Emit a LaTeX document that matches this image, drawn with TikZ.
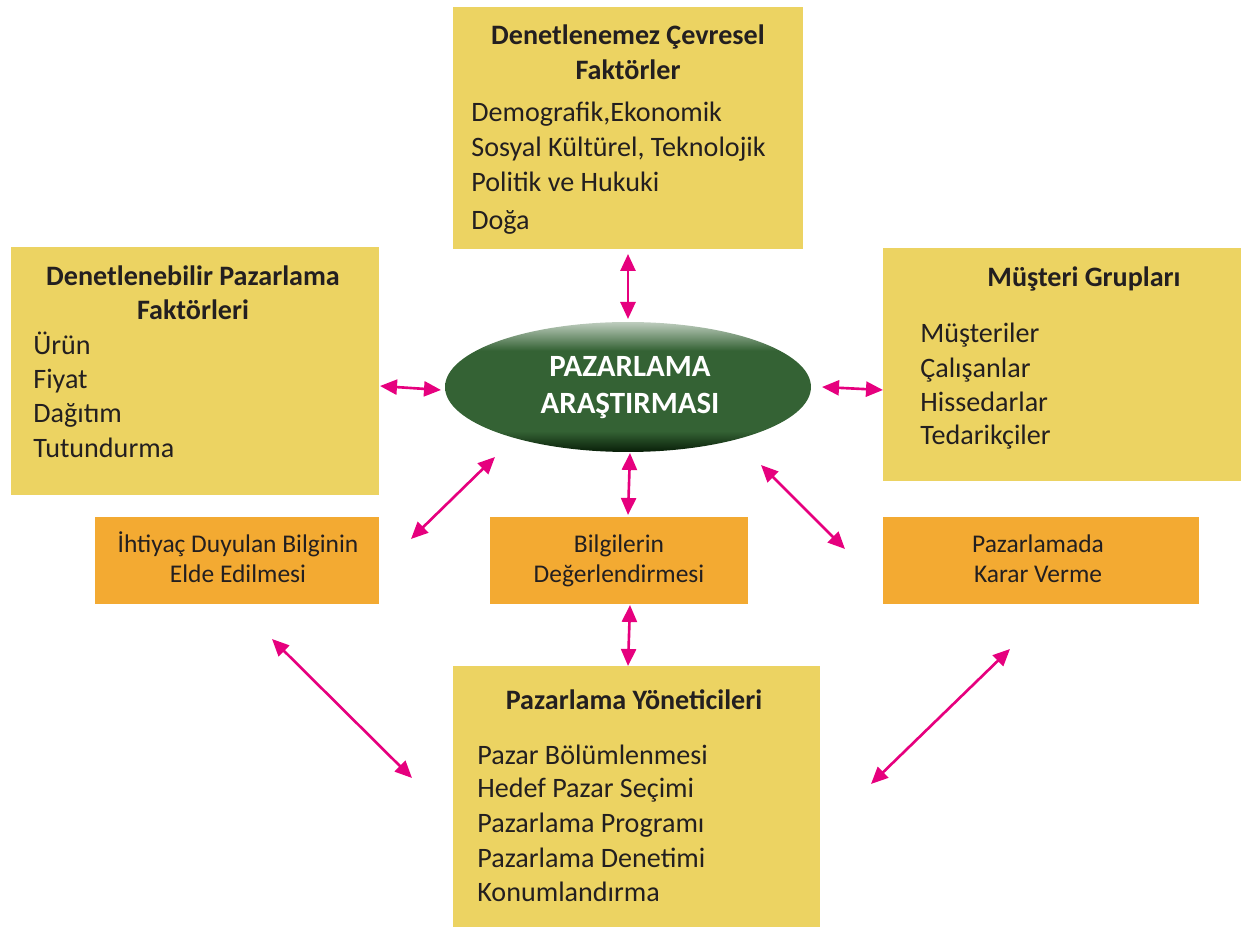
\documentclass[tikz,border=0pt]{standalone}
\usepackage{fontspec}
\setmainfont{Carlito}
\usetikzlibrary{arrows.meta,shapes.geometric}
\definecolor{ybox}{RGB}{236,211,98}
\definecolor{obox}{RGB}{243,170,50}
\definecolor{mag}{RGB}{230,0,126}
\definecolor{txt}{RGB}{35,31,32}
\definecolor{gtop}{RGB}{190,205,190}
\definecolor{gmid}{RGB}{52,98,52}
\definecolor{gbot}{RGB}{8,30,8}
\pgfdeclareverticalshading{ellsh}{100bp}{color(0bp)=(gbot); color(25bp)=(gbot); color(33bp)=(gmid); color(64bp)=(gmid); color(75bp)=(gtop); color(100bp)=(gtop)}
\begin{document}
\begin{tikzpicture}[x=0.02cm,y=-0.02cm,
  ybox/.style={fill=ybox,inner sep=0,outer sep=0},
  obox/.style={fill=obox,inner sep=0,outer sep=0},
  ttl/.style={anchor=base,inner sep=0,font=\fontsize{16}{19}\selectfont\bfseries,text=txt},
  itm/.style={anchor=base west,inner sep=0,font=\fontsize{16}{19}\selectfont,text=txt},
  otx/.style={anchor=base,inner sep=0,font=\fontsize{14.5}{17}\selectfont,text=txt},
  etx/.style={anchor=base,inner sep=0,font=\fontsize{17.6}{21}\selectfont\bfseries,text=white},
  dbl/.style={mag,line width=1.5pt,{Triangle[length=0.34cm,width=0.3cm]}-{Triangle[length=0.34cm,width=0.3cm]}}]
\useasboundingbox (0,0) rectangle (1242,928);
% boxes
\node[ybox,minimum width=7cm,minimum height=4.84cm] (top) at (628,128) {};
\node[ybox,minimum width=7.36cm,minimum height=4.96cm] (left) at (195,371) {};
\node[ybox,minimum width=7.16cm,minimum height=4.66cm] (right) at (1062,364.5) {};
\node[ybox,minimum width=7.34cm,minimum height=5.22cm] (bottom) at (636.5,796.5) {};
\node[obox,minimum width=5.68cm,minimum height=1.74cm] (oleft) at (237,560.5) {};
\node[obox,minimum width=5.16cm,minimum height=1.74cm] (omid) at (619,560.5) {};
\node[obox,minimum width=6.32cm,minimum height=1.74cm] (oright) at (1041,560.5) {};
% ellipse
\node[ellipse,minimum width=7.32cm,minimum height=2.6cm,inner sep=0,
  shading=ellsh] (ell) at (628,387) {};
\node[etx] (e1) at (630,377) {PAZARLAMA};
\node[etx] (e2) at (630,414) {ARAŞTIRMASI};
% top text
\node[ttl] (t1) at (628,45) {Denetlenemez Çevresel};
\node[ttl] (t2) at (628,80) {Faktörler};
\node[itm] (t3) at (471,122) {Demografik,Ekonomik};
\node[itm] (t4) at (471,157) {Sosyal Kültürel, Teknolojik};
\node[itm] (t5) at (471,192) {Politik ve Hukuki};
\node[itm] (t6) at (471,230) {Doğa};
% left text
\node[ttl] (l1) at (193,286) {Denetlenebilir Pazarlama};
\node[ttl] (l2) at (193,320) {Faktörleri};
\node[itm] (l3) at (33,355) {Ürün};
\node[itm] (l4) at (33,389) {Fiyat};
\node[itm] (l5) at (33,423) {Dağıtım};
\node[itm] (l6) at (33,458) {Tutundurma};
% right text
\node[ttl] (r1) at (1084,287) {Müşteri Grupları};
\node[itm] (r2) at (920,343) {Müşteriler};
\node[itm] (r3) at (920,378) {Çalışanlar};
\node[itm] (r4) at (920,412) {Hissedarlar};
\node[itm] (r5) at (920,445) {Tedarikçiler};
% bottom text
\node[ttl] (b1) at (634,710) {Pazarlama Yöneticileri};
\node[itm] (b2) at (477,765) {Pazar Bölümlenmesi};
\node[itm] (b3) at (477,798) {Hedef Pazar Seçimi};
\node[itm] (b4) at (477,833) {Pazarlama Programı};
\node[itm] (b5) at (477,868) {Pazarlama Denetimi};
\node[itm] (b6) at (477,902) {Konumlandırma};
% orange text
\node[otx] (o1) at (238,553) {İhtiyaç Duyulan Bilginin};
\node[otx] (o2) at (238,583) {Elde Edilmesi};
\node[otx] (o3) at (619,553) {Bilgilerin};
\node[otx] (o4) at (619,583) {Değerlendirmesi};
\node[otx] (o5) at (1038,553) {Pazarlamada};
\node[otx] (o6) at (1038,583) {Karar Verme};
% arrow endpoints
\coordinate (a1) at (628,254); \coordinate (a2) at (628,319);
\coordinate (b1p) at (380,386); \coordinate (b2p) at (441,390);
\coordinate (c1) at (822,387); \coordinate (c2) at (883,390);
\coordinate (d1) at (630,453); \coordinate (d2) at (628,515);
\coordinate (f1) at (495,457); \coordinate (f2) at (411,539);
\coordinate (g1) at (761,465); \coordinate (g2) at (845,549);
\coordinate (h1) at (630,605); \coordinate (h2) at (628,666);
\coordinate (i1) at (272,639); \coordinate (i2) at (412,778);
\coordinate (j1) at (1010,649); \coordinate (j2) at (871,784);
\draw[dbl] (a1) -- (a2);
\draw[dbl] (b1p) -- (b2p);
\draw[dbl] (c1) -- (c2);
\draw[dbl] (d1) -- (d2);
\draw[dbl] (f1) -- (f2);
\draw[dbl] (g1) -- (g2);
\draw[dbl] (h1) -- (h2);
\draw[dbl] (i1) -- (i2);
\draw[dbl] (j1) -- (j2);
\end{tikzpicture}
\end{document}
